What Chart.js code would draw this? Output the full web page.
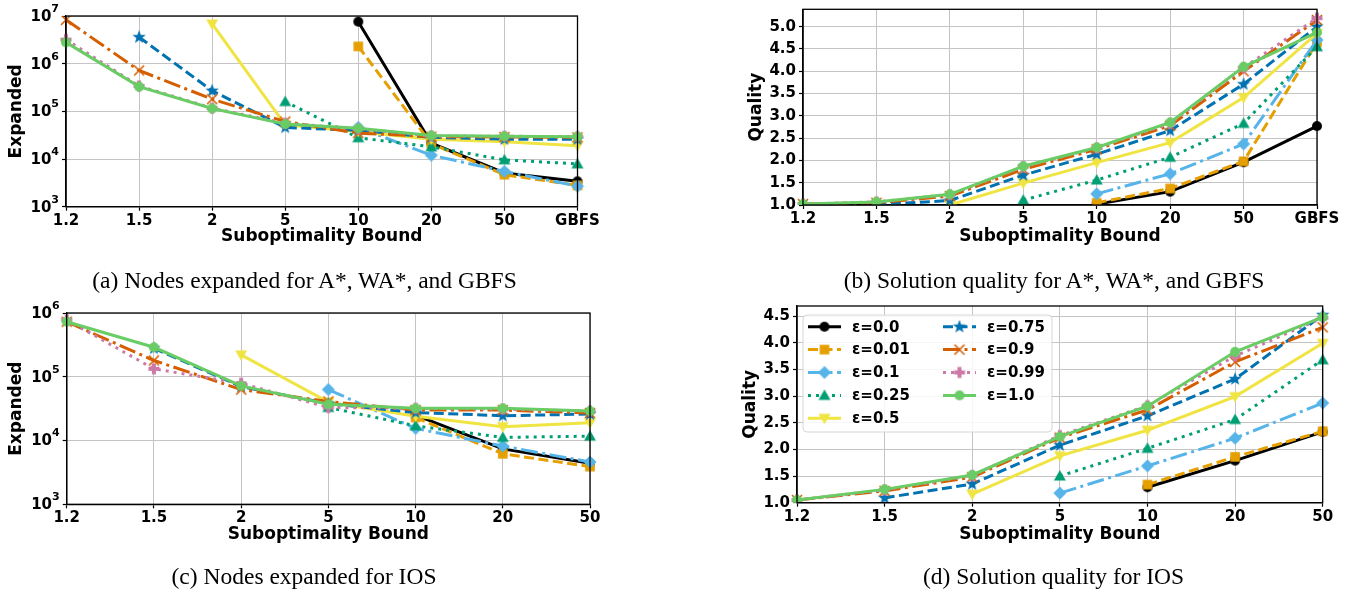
<!DOCTYPE html>
<html>
<head>
<meta charset="utf-8">
<script src="https://cdn.jsdelivr.net/npm/chart.js@4.4.1/dist/chart.umd.min.js"></script>
<style>
  html, body { margin: 0; padding: 0; background: #fff; width: 1349px; height: 591px; overflow: hidden; }
  body { position: relative; }
  canvas { position: absolute; }
  .cap { position: absolute; width: 640px; text-align: center; font-family: "Liberation Serif", "DejaVu Serif", serif; font-size: 23.5px; line-height: 28px; color: #000; white-space: nowrap; }
</style>
</head>
<body>
<canvas id="chartA" width="640" height="290" style="left:0px;top:-20px"></canvas>
<canvas id="chartB" width="660" height="290" style="left:700px;top:-20px"></canvas>
<canvas id="chartC" width="640" height="290" style="left:0px;top:280px"></canvas>
<canvas id="chartD" width="660" height="290" style="left:700px;top:280px"></canvas>
<div class="cap" style="left:-15.5px;top:266px">(a) Nodes expanded for A*, WA*, and GBFS</div>
<div class="cap" style="left:734px;top:266px">(b) Solution quality for A*, WA*, and GBFS</div>
<div class="cap" style="left:-16px;top:562px">(c) Nodes expanded for IOS</div>
<div class="cap" style="left:733.5px;top:562px">(d) Solution quality for IOS</div>
<script>
// categories
var boundsAll = ['1.2', '1.5', '2', '5', '10', '20', '50', 'GBFS'];
var boundsIOS = ['1.2', '1.5', '2', '5', '10', '20', '50'];
var epsLabels = ['ε=0.0', 'ε=0.01', 'ε=0.1', 'ε=0.25', 'ε=0.5', 'ε=0.75', 'ε=0.9', 'ε=0.99', 'ε=1.0'];
var decadesA = [1e3, 1e4, 1e5, 1e6, 1e7];
var decadesC = [1e3, 1e4, 1e5, 1e6];

// (a) nodes expanded, A*/WA*/GBFS
var aE0  = [null, null, null, null, 7.6e6, 2.15e4, 5.1e3, 3.4e3];
var aE01 = [null, null, null, null, 2.3e6, 2.1e4, 4.7e3, 2.8e3];
var aE1  = [null, null, null, null, 4.6e4, 1.2e4, 5.5e3, 2.7e3];
var aE25 = [null, null, null, 1.6e5, 2.8e4, 1.8e4, 9.6e3, 7.9e3];
var aE5  = [null, null, 6.8e6, 5.2e4, 3.8e4, 2.6e4, 2.3e4, 1.9e4];
var aE75 = [null, 3.6e6, 2.7e5, 4.6e4, 4.0e4, 2.85e4, 2.6e4, 2.6e4];
var aE9  = [8.3e6, 7.2e5, 1.8e5, 6.1e4, 3.5e4, 2.95e4, 2.9e4, 2.85e4];
var aE99 = [3.2e6, 3.4e5, 1.17e5, 5.6e4, 4.3e4, 3.05e4, 3.0e4, 2.95e4];
var aE10 = [2.8e6, 3.3e5, 1.15e5, 5.4e4, 4.4e4, 3.1e4, 3.0e4, 2.95e4];

// (b) solution quality, A*/WA*/GBFS
var bE0  = [null, null, null, null, 1.02, 1.30, 1.96, 2.77];
var bE01 = [null, null, null, null, 1.05, 1.37, 1.98, 4.65];
var bE1  = [null, null, null, null, 1.25, 1.70, 2.37, 4.70];
var bE25 = [null, null, null, 1.11, 1.56, 2.07, 2.83, 4.55];
var bE5  = [null, null, 1.0, 1.49, 1.95, 2.40, 3.41, 4.85];
var bE75 = [null, 1.01, 1.10, 1.67, 2.14, 2.67, 3.71, 5.0];
var bE9  = [1.02, 1.05, 1.20, 1.80, 2.25, 2.78, 4.0, 5.15];
var bE99 = [1.02, 1.07, 1.23, 1.86, 2.28, 2.83, 4.08, 5.19];
var bE10 = [1.02, 1.07, 1.24, 1.87, 2.29, 2.85, 4.10, 4.87];

// (c) nodes expanded, IOS
var cE0  = [null, null, null, null, 2.5e4, 7.4e3, 4.4e3];
var cE01 = [null, null, null, null, 2.3e4, 6.2e3, 3.9e3];
var cE1  = [null, null, null, 6.3e4, 1.55e4, 8.2e3, 4.6e3];
var cE25 = [null, null, null, 3.3e4, 1.7e4, 1.12e4, 1.17e4];
var cE5  = [null, null, 2.2e5, 4.0e4, 2.4e4, 1.65e4, 1.9e4];
var cE75 = [null, 2.8e5, 7.0e4, 3.8e4, 2.75e4, 2.45e4, 2.6e4];
var cE9  = [7.3e5, 1.8e5, 6.3e4, 4.1e4, 3.0e4, 3.0e4, 2.7e4];
var cE99 = [7.8e5, 1.33e5, 7.9e4, 3.3e4, 3.2e4, 3.1e4, 2.9e4];
var cE10 = [7.3e5, 2.9e5, 7.2e4, 3.7e4, 3.2e4, 3.2e4, 2.9e4];

// (d) solution quality, IOS
var dE0  = [null, null, null, null, 1.29, 1.79, 2.33];
var dE01 = [null, null, null, null, 1.34, 1.86, 2.34];
var dE1  = [null, null, null, 1.18, 1.69, 2.21, 2.87];
var dE25 = [null, null, null, 1.50, 2.02, 2.56, 3.68];
var dE5  = [null, null, 1.16, 1.88, 2.36, 2.99, 3.99];
var dE75 = [null, 1.09, 1.35, 2.08, 2.63, 3.32, 4.52];
var dE9  = [1.05, 1.22, 1.48, 2.22, 2.74, 3.64, 4.29];
var dE99 = [1.05, 1.24, 1.51, 2.26, 2.82, 3.75, 4.47];
var dE10 = [1.05, 1.25, 1.52, 2.24, 2.81, 3.83, 4.48];

Chart.defaults.font.family = '"DejaVu Sans", sans-serif';
Chart.defaults.color = '#000';

// line styles per epsilon
var colors = ['#000000', '#E69F00', '#56B4E9', '#009E73', '#F0E442', '#0072B2', '#D55E00', '#CC79A7', '#6ACC64'];
var dashes = [[], [10, 4.5], [17, 4.5, 3, 4.5], [3, 5], [], [10, 4.5], [17, 4.5, 3, 4.5], [3, 5], []];
var shapes = ['circle', 'square', 'diamond', 'triUp', 'triDown', 'star', 'x', 'plus', 'circle'];

function makeMarker(shape, color) {
    var c = document.createElement('canvas');
    c.width = 18; c.height = 18;
    var g = c.getContext('2d');
    var m = 9;
    g.fillStyle = color; g.strokeStyle = color;
    g.beginPath();
    if (shape == 'circle') {
        g.arc(m, m, 5, 0, Math.PI * 2);
        g.fill();
    } else if (shape == 'square') {
        g.fillRect(m - 4.8, m - 4.8, 9.6, 9.6);
    } else if (shape == 'diamond') {
        g.moveTo(m, m - 6.5); g.lineTo(m + 6.5, m); g.lineTo(m, m + 6.5); g.lineTo(m - 6.5, m);
        g.closePath(); g.fill();
    } else if (shape == 'triUp') {
        g.moveTo(m, m - 6); g.lineTo(m + 6, m + 4.5); g.lineTo(m - 6, m + 4.5);
        g.closePath(); g.fill();
    } else if (shape == 'triDown') {
        g.moveTo(m, m + 6); g.lineTo(m + 6, m - 4.5); g.lineTo(m - 6, m - 4.5);
        g.closePath(); g.fill();
    } else if (shape == 'star') {
        for (var i = 0; i < 10; i++) {
            var r = i % 2 == 0 ? 7 : 2.9;
            var a = -Math.PI / 2 + i * Math.PI / 5;
            if (i == 0) g.moveTo(m + r * Math.cos(a), m + r * Math.sin(a));
            else g.lineTo(m + r * Math.cos(a), m + r * Math.sin(a));
        }
        g.closePath(); g.fill();
    } else if (shape == 'x') {
        g.lineWidth = 1.6;
        g.moveTo(m - 5, m - 5); g.lineTo(m + 5, m + 5);
        g.moveTo(m + 5, m - 5); g.lineTo(m - 5, m + 5);
        g.stroke();
    } else if (shape == 'plus') {
        g.fillRect(m - 5.5, m - 2, 11, 4);
        g.fillRect(m - 2, m - 5.5, 4, 11);
    }
    return c;
}

var markers = shapes.map(function (s, i) { return makeMarker(s, colors[i]); });

function buildDatasets(series) {
    return series.map(function (vals, i) {
        return {
            label: epsLabels[i],
            data: vals,
            borderColor: colors[i],
            backgroundColor: colors[i],
            borderWidth: 3,
            borderDash: dashes[i],
            pointStyle: markers[i],
            pointRadius: 5,
            order: 9 - i,
            spanGaps: false,
            tension: 0
        };
    });
}

// draws the full box around the plot area
var framePlugin = {
    id: 'frame',
    afterDatasetsDraw: function (chart) {
        var a = chart.chartArea, g = chart.ctx;
        g.save();
        g.strokeStyle = '#000';
        g.lineWidth = 1.3;
        g.strokeRect(a.left, a.top, a.right - a.left, a.bottom - a.top);
        g.restore();
    }
};

// "10" with a raised exponent, like matplotlib's log labels
var powerLabelsPlugin = {
    id: 'powerLabels',
    afterDraw: function (chart) {
        var s = chart.scales.y;
        if (s.type != 'logarithmic') return;
        var g = chart.ctx;
        var right = chart.chartArea.left - 7;
        g.save();
        g.fillStyle = '#000';
        g.textBaseline = 'middle';
        s.ticks.forEach(function (t) {
            var y = s.getPixelForValue(t.value);
            var e = String(Math.round(Math.log10(t.value)));
            g.font = 'bold 11px "DejaVu Sans"';
            var ew = g.measureText(e).width;
            g.textAlign = 'right';
            g.fillText(e, right, y - 7);
            g.font = 'bold 15px "DejaVu Sans"';
            g.fillText('10', right - ew, y + 1);
        });
        g.restore();
    }
};

// matplotlib-like legend in two columns (upper left)
var legendPlugin = {
    id: 'twoColLegend',
    afterDraw: function (chart) {
        var a = chart.chartArea, g = chart.ctx;
        var bx = a.left + 6, by = a.top + 9, bw = 249, bh = 117;
        g.save();
        g.fillStyle = 'rgba(255,255,255,0.85)';
        g.strokeStyle = '#d6d6d6';
        g.lineWidth = 1;
        g.beginPath();
        g.roundRect(bx, by, bw, bh, 4);
        g.fill(); g.stroke();
        g.font = 'bold 15px "DejaVu Sans"';
        g.textBaseline = 'middle';
        chart.data.datasets.forEach(function (ds, i) {
            var col = i < 5 ? 0 : 1;
            var row = i < 5 ? i : i - 5;
            var x0 = bx + (col == 0 ? 5 : 140);
            var y = by + 11.7 + row * 22.9;
            g.strokeStyle = ds.borderColor;
            g.lineWidth = 3;
            g.setLineDash(ds.borderDash);
            g.beginPath();
            g.moveTo(x0, y); g.lineTo(x0 + 33, y);
            g.stroke();
            g.setLineDash([]);
            g.drawImage(ds.pointStyle, x0 + 16.5 - 9, y - 9);
            g.fillStyle = '#000';
            g.fillText(ds.label, x0 + 44, y + 1);
        });
        g.restore();
    }
};

function makeChart(id, cfg) {
    var canvas = document.getElementById(id);
    var cl = cfg.canvasLeft, ct = cfg.canvasTop;
    var half = 10.2;
    var yScaleLeft = cfg.yTitleX - half;
    var xScaleBottom = cfg.xTitleY + half;
    var yWidth = cfg.area.l - yScaleLeft;
    var xHeight = xScaleBottom - cfg.area.b;

    var yScale = {
        type: cfg.yType,
        min: cfg.yMin,
        max: cfg.yMax,
        title: { display: true, text: cfg.yTitle, font: { size: 17, weight: 'bold' }, padding: 0 },
        grid: { color: '#c4c4c4', lineWidth: 1, tickLength: 4, tickColor: '#000', tickWidth: 1.2 },
        border: { color: '#000', width: 1.3 },
        ticks: { font: { size: 15, weight: 'bold' }, padding: 3, color: '#000' },
        afterFit: function (s) { s.width = yWidth; }
    };
    if (cfg.yType == 'logarithmic') {
        var decades = cfg.decades;
        yScale.afterBuildTicks = function (s) {
            s.ticks = decades.map(function (v) { return { value: v }; });
        };
        // labels are drawn by powerLabelsPlugin
        yScale.ticks.callback = function () { return ''; };
    } else {
        yScale.ticks.stepSize = 0.5;
        yScale.ticks.includeBounds = false;
        yScale.ticks.callback = function (v) { return Number(v).toFixed(1); };
    }

    var plugins = [framePlugin, powerLabelsPlugin];
    if (cfg.legend) plugins.push(legendPlugin);

    return new Chart(canvas.getContext('2d'), {
        type: 'line',
        data: { labels: cfg.labels, datasets: buildDatasets(cfg.series) },
        options: {
            responsive: false,
            animation: false,
            layout: {
                padding: {
                    left: yScaleLeft - cl,
                    top: cfg.area.t - ct,
                    right: cl + canvas.width - cfg.area.r,
                    bottom: ct + canvas.height - xScaleBottom
                }
            },
            plugins: { legend: { display: false }, tooltip: { enabled: false } },
            scales: {
                x: {
                    type: 'category',
                    offset: false,
                    title: { display: true, text: 'Suboptimality Bound', font: { size: 17, weight: 'bold' }, padding: 0 },
                    grid: { color: '#c4c4c4', lineWidth: 1, tickLength: 4, tickColor: '#000', tickWidth: 1.2 },
                    border: { color: '#000', width: 1.3 },
                    ticks: { font: { size: 15, weight: 'bold' }, padding: 1, color: '#000', maxRotation: 0, autoSkip: false },
                    afterFit: function (s) { s.height = xHeight; }
                },
                y: yScale
            }
        },
        plugins: plugins
    });
}

makeChart('chartA', {
    canvasLeft: 0, canvasTop: -20,
    area: { l: 66, t: 16, r: 577.5, b: 206.7 },
    yTitleX: 17, xTitleY: 237,
    labels: boundsAll,
    series: [aE0, aE01, aE1, aE25, aE5, aE75, aE9, aE99, aE10],
    yType: 'logarithmic', yMin: 1e3, yMax: 1e7, decades: decadesA,
    yTitle: 'Expanded'
});

makeChart('chartB', {
    canvasLeft: 700, canvasTop: -20,
    area: { l: 803, t: 9.3, r: 1317, b: 205 },
    yTitleX: 757, xTitleY: 237,
    labels: boundsAll,
    series: [bE0, bE01, bE1, bE25, bE5, bE75, bE9, bE99, bE10],
    yType: 'linear', yMin: 1.0, yMax: 5.39,
    yTitle: 'Quality'
});

makeChart('chartC', {
    canvasLeft: 0, canvasTop: 280,
    area: { l: 66.7, t: 313, r: 590, b: 504.3 },
    yTitleX: 17, xTitleY: 535,
    labels: boundsIOS,
    series: [cE0, cE01, cE1, cE25, cE5, cE75, cE9, cE99, cE10],
    yType: 'logarithmic', yMin: 1e3, yMax: 1e6, decades: decadesC,
    yTitle: 'Expanded'
});

makeChart('chartD', {
    canvasLeft: 700, canvasTop: 280,
    area: { l: 797, t: 306, r: 1322.7, b: 502.7 },
    yTitleX: 751, xTitleY: 535,
    labels: boundsIOS,
    series: [dE0, dE01, dE1, dE25, dE5, dE75, dE9, dE99, dE10],
    yType: 'linear', yMin: 1.0, yMax: 4.69,
    yTitle: 'Quality',
    legend: true
});
</script>
</body>
</html>
